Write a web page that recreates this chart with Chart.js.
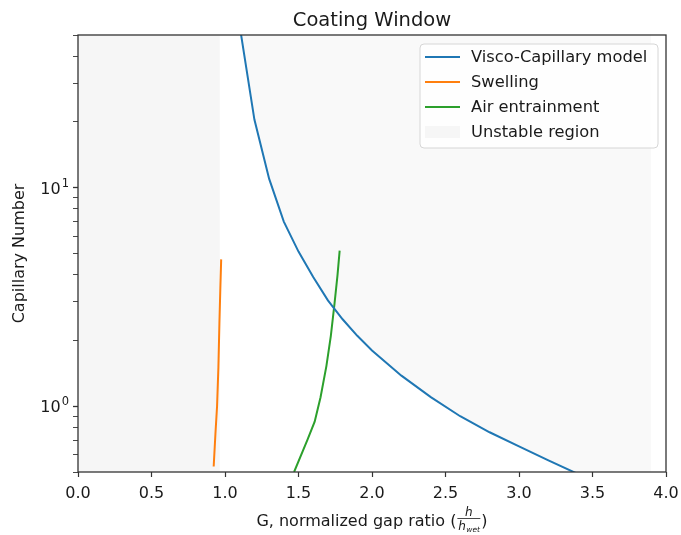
<!DOCTYPE html>
<html>
<head>
<meta charset="utf-8">
<script src="https://cdn.jsdelivr.net/npm/chart.js@4.4.0/dist/chart.umd.min.js"></script>
<style>body{margin:0;background:#fff}</style>
</head>
<body>
<canvas id="grafica" width="681" height="535"></canvas>
<script>
// valores
const viscoG = [1.1, 1.2, 1.3, 1.4, 1.5, 1.6, 1.7, 1.8, 1.9, 2.0, 2.2, 2.4, 2.6, 2.8, 3.0, 3.2, 3.4];
const viscoCa = [55, 20.5, 11, 7.0, 5.1, 3.9, 3.05, 2.5, 2.1, 1.8, 1.38, 1.1, 0.9, 0.76, 0.655, 0.565, 0.49];
const swellG = [0.923, 0.935, 0.946, 0.955, 0.962, 0.968, 0.974];
const swellCa = [0.53, 0.75, 1.0, 1.5, 2.4, 3.4, 4.7];
const airG = [1.47, 1.56, 1.61, 1.65, 1.69, 1.72, 1.745, 1.765, 1.78];
const airCa = [0.5, 0.7, 0.85, 1.1, 1.53, 2.1, 2.95, 3.96, 5.15];
const unstableLeftG = [0, 0.965];
const unstableRightEndG = 3.9;
const xTicks = [0, 0.5, 1, 1.5, 2, 2.5, 3, 3.5, 4];
const yTicks = [0.5, 0.6, 0.7, 0.8, 0.9, 1, 2, 3, 4, 5, 6, 7, 8, 9, 10, 20, 30, 40, 50];
const yMayores = [1, 10];
const yMin = 0.5, yMax = 50;
const etiquetas = ["Visco-Capillary model", "Swelling", "Air entrainment", "Unstable region"];

const puntos = (xs, ys) => xs.map((x, i) => ({ x: x, y: ys[i] }));
const fuente = "DejaVu Sans";

// region derecha: sobre la curva hasta G = 3.9
const derecha = puntos(viscoG, viscoCa);
derecha.push({ x: unstableRightEndG, y: viscoCa[viscoCa.length - 1] });

const data = {
  datasets: [
    { label: etiquetas[0], data: puntos(viscoG, viscoCa), borderColor: "#1f77b4", borderWidth: 2, pointRadius: 0, order: 0 },
    { label: etiquetas[1], data: puntos(swellG, swellCa), borderColor: "#ff7f0e", borderWidth: 2, pointRadius: 0, order: 0 },
    { label: etiquetas[2], data: puntos(airG, airCa), borderColor: "#2ca02c", borderWidth: 2, pointRadius: 0, order: 0 },
    { label: etiquetas[3], data: unstableLeftG.map((x) => ({ x: x, y: yMax })), borderWidth: 0, pointRadius: 0,
      backgroundColor: "#f6f6f6", fill: "start", order: 10 },
    { label: "_derecha", data: derecha, borderWidth: 0, pointRadius: 0, backgroundColor: "#f9f9f9", fill: "end", order: 11 },
  ],
};

// marco, titulos, etiquetas 10^n y leyenda al estilo matplotlib
const marco = {
  id: "marco",
  afterDraw(chart) {
    const { ctx, chartArea: a } = chart;
    ctx.save();
    ctx.strokeStyle = "#333";
    ctx.lineWidth = 1.3;
    ctx.strokeRect(a.left, a.top, a.right - a.left, a.bottom - a.top);

    ctx.fillStyle = "#1a1a1a";
    ctx.textAlign = "center";
    ctx.textBaseline = "alphabetic";
    ctx.font = `19.5px ${fuente}`;
    ctx.fillText("Coating Window", (a.left + a.right) / 2, 26);

    // etiquetas del eje y
    const ys = chart.scales.y;
    yMayores.forEach((v) => {
      const py = ys.getPixelForValue(v);
      const exp = String(Math.round(Math.log10(v)));
      ctx.font = `11.5px ${fuente}`;
      const wExp = ctx.measureText(exp).width;
      const xr = a.left - 9;
      ctx.textAlign = "right";
      ctx.fillText(exp, xr, py - 1);
      ctx.font = `16px ${fuente}`;
      ctx.fillText("10", xr - wExp - 1, py + 6);
    });

    // titulo eje y
    ctx.textAlign = "center";
    ctx.font = `16px ${fuente}`;
    ctx.save();
    ctx.translate(24, (a.top + a.bottom) / 2);
    ctx.rotate(-Math.PI / 2);
    ctx.fillText("Capillary Number", 0, 0);
    ctx.restore();

    // titulo eje x con fraccion h / h_wet
    const texto = "G, normalized gap ratio (";
    const wTexto = ctx.measureText(texto).width;
    const wPar = ctx.measureText(")").width;
    const wFrac = 25;
    const total = wTexto + wFrac + wPar;
    let x0 = (a.left + a.right) / 2 - total / 2;
    const yb = 526;
    ctx.textAlign = "left";
    ctx.fillText(texto, x0, yb);
    const fx = x0 + wTexto;
    ctx.font = `italic 12px ${fuente}`;
    ctx.textAlign = "center";
    ctx.fillText("h", fx + wFrac / 2, yb - 10);
    ctx.beginPath();
    ctx.moveTo(fx + 1, yb - 7.5);
    ctx.lineTo(fx + wFrac - 1, yb - 7.5);
    ctx.lineWidth = 0.8;
    ctx.strokeStyle = "#1a1a1a";
    ctx.stroke();
    ctx.textAlign = "left";
    ctx.fillText("h", fx + 2, yb + 4);
    ctx.font = `italic 7.5px ${fuente}`;
    ctx.fillText("wet", fx + 10, yb + 6);
    ctx.font = `16px ${fuente}`;
    ctx.fillText(")", fx + wFrac, yb);

    // leyenda
    const lx = 420, ly = 44, lw = 238, lh = 104;
    ctx.beginPath();
    if (ctx.roundRect) ctx.roundRect(lx, ly, lw, lh, 4);
    else ctx.rect(lx, ly, lw, lh);
    ctx.fillStyle = "rgba(255,255,255,0.8)";
    ctx.fill();
    ctx.strokeStyle = "#d6d6d6";
    ctx.lineWidth = 1;
    ctx.stroke();
    ctx.font = `16.3px ${fuente}`;
    ctx.textBaseline = "middle";
    chart.data.datasets.slice(0, 4).forEach((ds, i) => {
      const y = ly + 13 + i * 25;
      if (ds.fill) {
        ctx.fillStyle = ds.backgroundColor;
        ctx.fillRect(lx + 5, y - 6, 35, 12);
      } else {
        ctx.beginPath();
        ctx.moveTo(lx + 5, y);
        ctx.lineTo(lx + 40, y);
        ctx.strokeStyle = ds.borderColor;
        ctx.lineWidth = 2;
        ctx.stroke();
      }
      ctx.fillStyle = "#1a1a1a";
      ctx.fillText(ds.label, lx + 51, y + 1);
    });
    ctx.restore();
  },
};

const config = {
  type: "line",
  data: data,
  plugins: [marco],
  options: {
    responsive: false,
    animation: false,
    layout: { padding: { top: 35, right: 15, left: 0, bottom: 0 } },
    plugins: { legend: { display: false }, tooltip: { enabled: false }, title: { display: false } },
    scales: {
      x: {
        type: "linear",
        min: 0,
        max: 4,
        afterFit: (s) => { s.height = 63; s.paddingLeft = 0; s.paddingRight = 0; },
        afterBuildTicks: (s) => { s.ticks = xTicks.map((v) => ({ value: v })); },
        ticks: { callback: (v) => v.toFixed(1), font: { family: fuente, size: 16 }, color: "#1a1a1a", padding: 7, maxRotation: 0, autoSkip: false },
        grid: { drawOnChartArea: false, tickLength: 5, color: "#333", tickWidth: 1.2 },
        border: { display: false },
      },
      y: {
        type: "logarithmic",
        min: yMin,
        max: yMax,
        afterFit: (s) => { s.width = 78; s.paddingTop = 0; s.paddingBottom = 0; },
        afterBuildTicks: (s) => { s.ticks = yTicks.map((v) => ({ value: v, major: yMayores.includes(v) })); },
        ticks: { callback: () => "", autoSkip: false },
        grid: {
          drawOnChartArea: false, color: "#333", tickLength: 5,
          tickWidth: (c) => (c.tick && yMayores.includes(c.tick.value) ? 1.3 : 0.9),
        },
        border: { display: false },
      },
    },
  },
};

new Chart(document.getElementById("grafica"), config);
</script>
</body>
</html>
